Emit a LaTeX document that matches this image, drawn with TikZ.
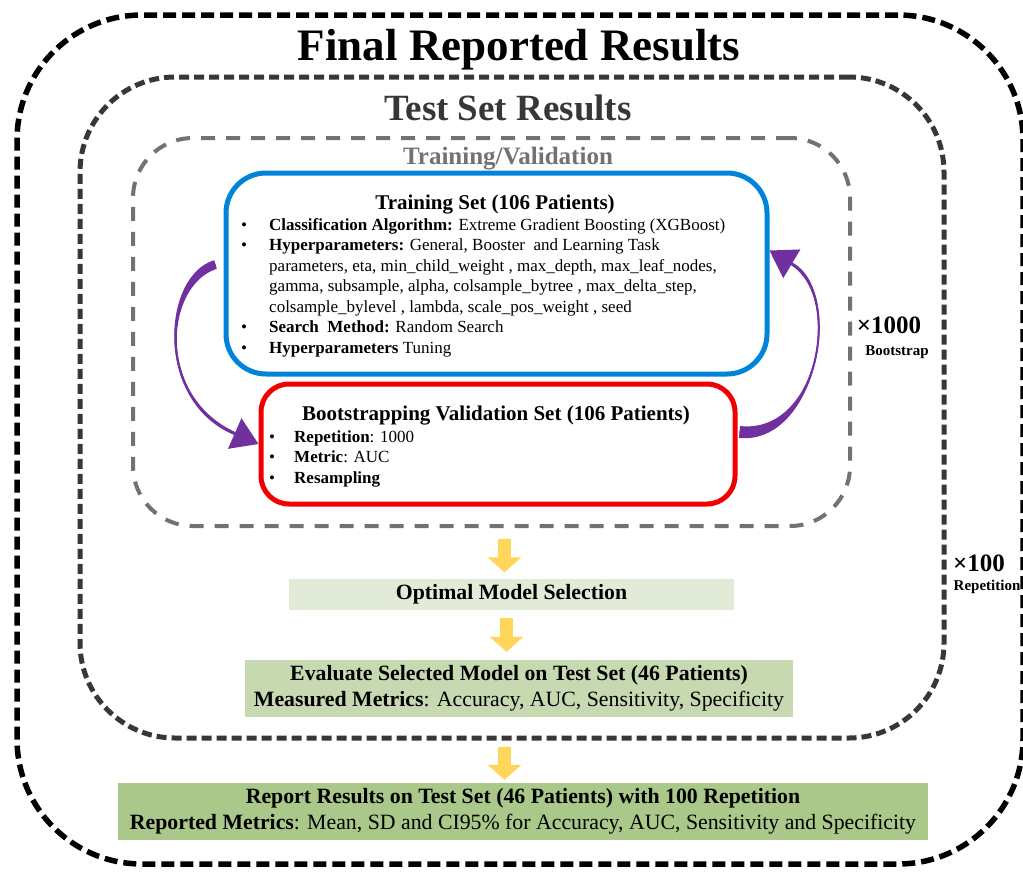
\documentclass[tikz,border=0pt]{standalone}
\usepackage{fontspec}
\setmainfont{Liberation Serif}
\usetikzlibrary{arrows.meta,calc}
\definecolor{midgray}{RGB}{58,54,54}
\definecolor{ingray}{RGB}{118,113,113}
\definecolor{bluebox}{RGB}{0,132,218}
\definecolor{redbox}{RGB}{240,0,0}
\definecolor{arrpurple}{RGB}{112,48,160}
\definecolor{yarr}{RGB}{255,214,90}
\definecolor{gone}{RGB}{226,235,215}
\definecolor{gtwo}{RGB}{198,217,177}
\definecolor{gthree}{RGB}{169,200,137}
\newcommand\setfs[2]{\fontsize{#1}{#2}\selectfont}
\begin{document}
\begin{tikzpicture}[x=1pt,y=-1pt,
  framebox/.style={inner sep=0pt},
  purplearr/.style={draw=arrpurple, line width=2pt, -{Triangle[length=26pt,width=33pt]}},
  taper/.style={fill=arrpurple},
  yarrow/.style={draw=yarr, line width=13pt, -{Triangle[length=15pt,width=33pt]}},
  greenbox/.style={inner sep=0pt, align=center},
  listtext/.style={anchor=base west, inner sep=0pt, font=\setfs{17}{20.5}},
  boxtitle/.style={anchor=base, inner sep=0pt, font=\bfseries\setfs{21}{24}},
  sidelabel/.style={inner sep=0pt, font=\bfseries\setfs{25}{28}},
  sidesub/.style={inner sep=0pt, font=\bfseries\setfs{15}{18}}]
\useasboundingbox (0,0) rectangle (1023,873);

% nested dashed frames
\node[framebox, draw=black, line width=5.5pt, dash pattern=on 13pt off 6pt,
  rounded corners=125pt, minimum width=1006pt, minimum height=849pt] (outer) at (520,439.5) {};
\node[framebox, draw=midgray, line width=5pt, dash pattern=on 10pt off 5pt,
  rounded corners=95pt, minimum width=864pt, minimum height=661pt] (middle) at (512,407.5) {};
\node[framebox, draw=ingray, line width=4pt, dash pattern=on 14pt off 11pt,
  rounded corners=60pt, minimum width=717pt, minimum height=388pt] (inner) at (491.5,332) {};

% titles
\node[anchor=base, inner sep=0pt, font=\bfseries\setfs{45}{50}] (t1) at (519,60) {Final Reported Results};
\node[anchor=base, inner sep=0pt, text=midgray, font=\bfseries\setfs{37}{40}] (t2) at (508,120) {Test Set Results};
\node[anchor=base, inner sep=0pt, text=ingray, font=\bfseries\setfs{25}{28}] (t3) at (508,164) {Training/Validation};

% training box
\node[framebox, draw=bluebox, line width=5pt, rounded corners=40pt,
  minimum width=541pt, minimum height=201pt] (blue) at (496.5,273.5) {};
\node[boxtitle] (btitle) at (495,209) {Training Set (106 Patients)};
\node[listtext] (blist) at (238,230) {\begin{tabular}[t]{@{}l@{}l@{}}
\makebox[31pt][l]{\hspace{3pt}\textbullet} & \textbf{Classification Algorithm:} Extreme Gradient Boosting (XGBoost)\\
\makebox[31pt][l]{\hspace{3pt}\textbullet} & \textbf{Hyperparameters:} General, Booster\ \ and Learning Task\\
 & parameters, eta, min\_child\_weight , max\_depth, max\_leaf\_nodes,\\
 & gamma, subsample, alpha, colsample\_bytree , max\_delta\_step,\\
 & colsample\_bylevel , lambda, scale\_pos\_weight , seed\\
\makebox[31pt][l]{\hspace{3pt}\textbullet} & \textbf{Search\ \ Method:} Random Search\\
\makebox[31pt][l]{\hspace{3pt}\textbullet} & \textbf{Hyperparameters} Tuning
\end{tabular}};

% validation box
\node[framebox, draw=redbox, line width=5pt, rounded corners=28pt,
  minimum width=474pt, minimum height=120pt] (red) at (498,444) {};
\node[boxtitle] (rtitle) at (496,420) {Bootstrapping Validation Set (106 Patients)};
\node[listtext] (rlist) at (266,442) {\begin{tabular}[t]{@{}l@{}l@{}}
\makebox[28pt][l]{\hspace{3pt}\textbullet} & \textbf{Repetition}: 1000\\
\makebox[28pt][l]{\hspace{3pt}\textbullet} & \textbf{Metric}: AUC\\
\makebox[28pt][l]{\hspace{3pt}\textbullet} & \textbf{Resampling}
\end{tabular}};

% purple loop arrows (tapered body + connector with head)
\coordinate (ls) at ($(blue.west)+(-8,-9)$);
\coordinate (lb) at ($(red.west)+(-23.8,-10.5)$);
\fill[taper] ($(ls)+(1.3,4.3)$) .. controls ($(ls)+(-50.5,20.8)$) and ($(lb)+(-78.8,-37.75)$)
  .. ($(lb)+(0.6,-1.4)$) -- ($(lb)+(-0.6,1.4)$)
  .. controls ($(lb)+(-81.2,-32.25)$) and ($(ls)+(-53.5,11.2)$) .. ($(ls)+(-1.3,-4.3)$) -- cycle;
\draw[purplearr] (ls) .. controls ($(ls)+(-52,16)$) and ($(lb)+(-80,-35)$) .. (lb) -- (red.west);

\coordinate (rs) at ($(red.east)+(2,-12)$);
\coordinate (re) at ($(blue.east)+(0,-23)$);
\coordinate (rb) at ($(re)+(22.3,13.3)$);
\fill[taper] ($(rs)+(0.61,-5.97)$) .. controls ($(rs)+(78.56,2.53)$) and ($(rb)+(50.46,33.58)$)
  .. ($(rb)+(-0.77,1.29)$) -- ($(rb)+(0.77,-1.29)$)
  .. controls ($(rb)+(53.54,28.42)$) and ($(rs)+(77.44,13.47)$) .. ($(rs)+(-0.61,5.97)$) -- cycle;
\draw[purplearr] (rs) .. controls ($(rs)+(78,8)$) and ($(rb)+(52,31)$) .. (rb) -- (re);

% side labels
\node[sidelabel] (x1000) at (889,325) {×1000};
\node[sidesub] (bs) at (897,352) {Bootstrap};
\node[sidelabel] (x100) at (979,563) {×100};
\node[sidesub] (rep) at (987,587) {Repetition};

% result boxes
\node[greenbox, fill=gone, minimum width=445pt, minimum height=31pt,
  font=\bfseries\setfs{21.8}{25}] (opt) at (511.5,594) {Optimal Model Selection};
\node[greenbox, fill=gtwo, minimum width=548pt, minimum height=57pt,
  font=\setfs{21.8}{25.5}] (eval) at (519,688.5)
  {\textbf{Evaluate Selected Model on Test Set (46 Patients)}\\\textbf{Measured Metrics}: Accuracy, AUC, Sensitivity, Specificity};
\node[greenbox, fill=gthree, minimum width=810pt, minimum height=57pt,
  font=\setfs{21.8}{25.5}] (report) at (523,811.5)
  {\textbf{Report Results on Test Set (46 Patients) with 100 Repetition}\\\textbf{Reported Metrics}: Mean, SD and CI95\% for Accuracy, AUC, Sensitivity and Specificity};

% yellow arrows
\draw[yarrow] ($(inner.south -| opt.north)+(-7,11)$) -- ($(opt.north)+(-7,-6)$);
\draw[yarrow] ($(opt.south)+(-5,8)$) -- ($(eval.north -| opt.south)+(-5,-8)$);
\draw[yarrow] ($(middle.south -| opt.south)+(-7,6)$) -- ($(report.north -| opt.south)+(-7,-3)$);
\end{tikzpicture}
\end{document}
